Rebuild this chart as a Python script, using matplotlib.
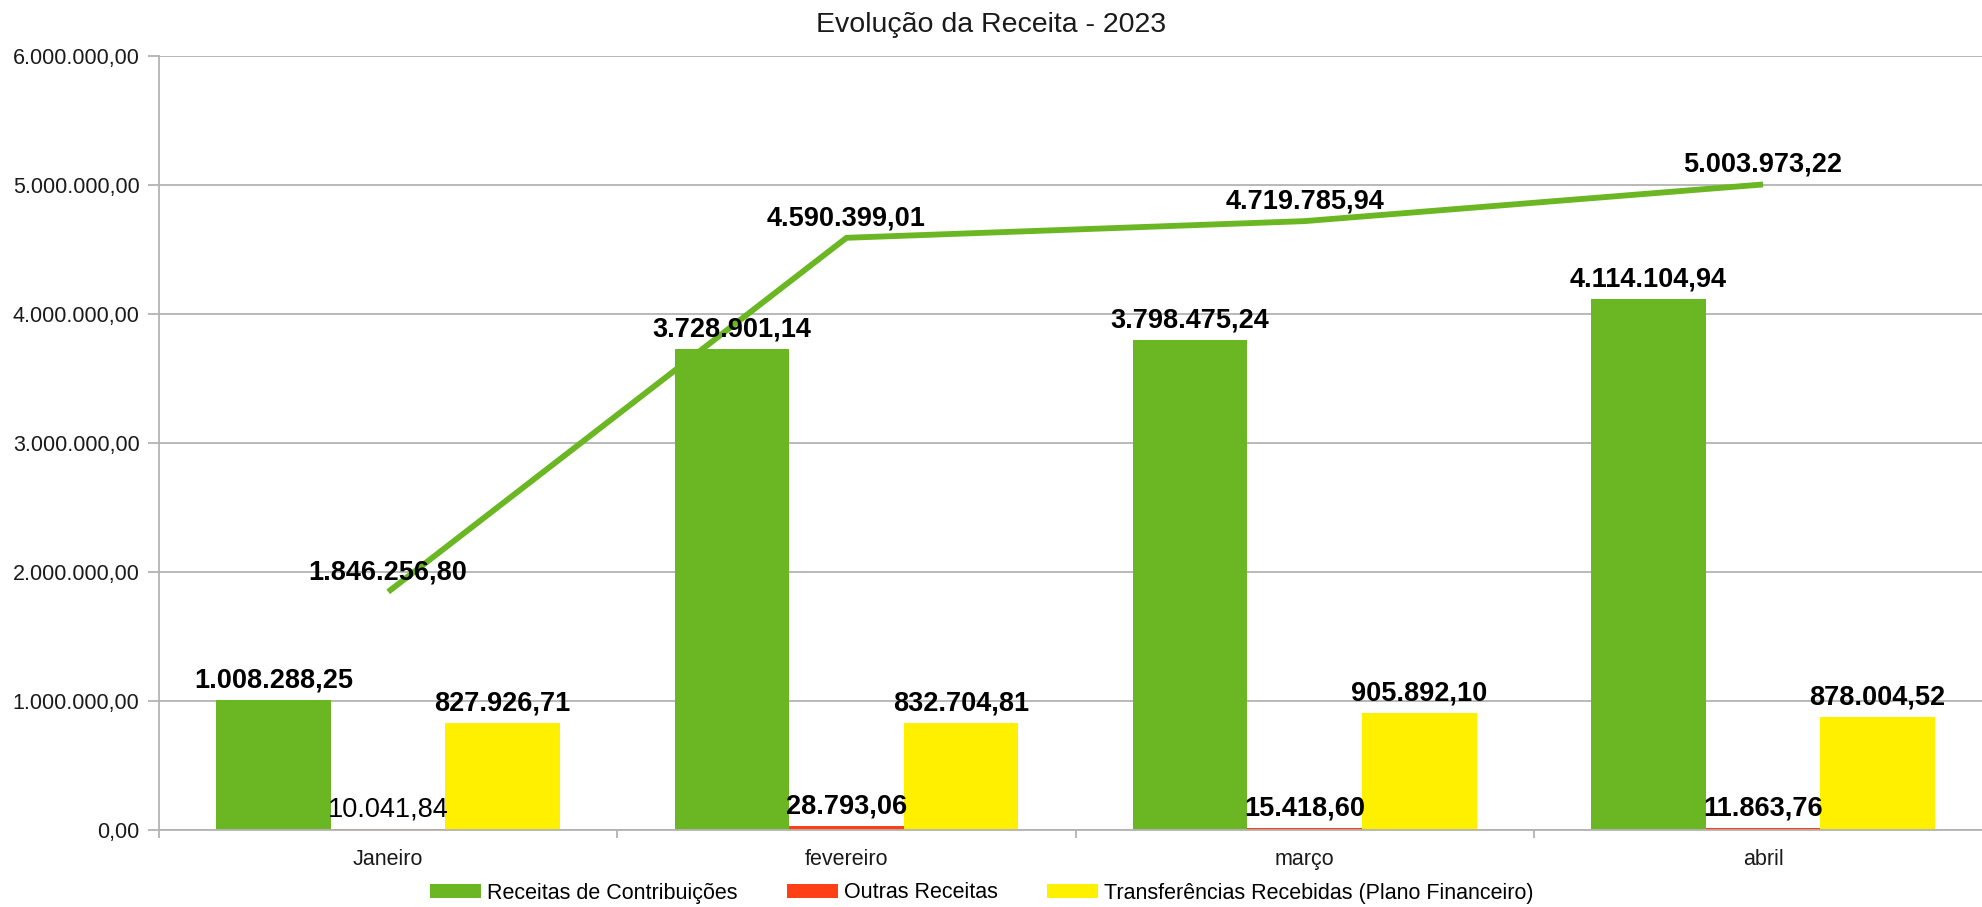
import numpy as np
import matplotlib
matplotlib.use("Agg")
import matplotlib.pyplot as plt
from matplotlib.ticker import FixedLocator, FuncFormatter

# Data
meses = ['Janeiro', 'fevereiro', 'março', 'abril']
contribuicoes = [1008288.25, 3728901.14, 3798475.24, 4114104.94]
outras = [10041.84, 28793.06, 15418.60, 11863.76]
transferencias = [827926.71, 832704.81, 905892.10, 878004.52]
total = [1846256.80, 4590399.01, 4719785.94, 5003973.22]

series_names = ['Receitas de Contribuições', 'Outras Receitas',
                'Transferências Recebidas (Plano Financeiro)']
cores = ['#6ab723', '#ff3f16', '#fff000']

plt.rcParams['font.family'] = ['Liberation Sans', 'DejaVu Sans']


def fmt_br(v, pos=None):
    s = f"{v:,.2f}"
    return s.replace(',', 'X').replace('.', ',').replace('X', '.')


fig = plt.figure(figsize=(19.83, 9.07), dpi=100)
ax = fig.add_axes([0.0802, 0.0849, 1.0 - 0.0802, 0.9383 - 0.0849])

x = np.arange(len(meses))
w = 0.25
grid_col = '#b3b3b3'

ax.set_axisbelow(True)
ax.yaxis.grid(True, color=grid_col, linewidth=1.3)

bar_sets = []
for i, (vals, cor) in enumerate(zip([contribuicoes, outras, transferencias], cores)):
    b = ax.bar(x + (i - 1) * w, vals, width=w, color=cor, label=series_names[i], zorder=2)
    bar_sets.append(b)

# total line (sum of the three series)
ax.plot(x, total, color='#6ab723', linewidth=4.2, zorder=3, solid_capstyle='butt')

# data labels
off = 9
for i, vals in enumerate([contribuicoes, outras, transferencias]):
    for j, v in enumerate(vals):
        peso = 'normal' if (i == 1 and j == 0) else 'bold'
        ax.annotate(fmt_br(v), (x[j] + (i - 1) * w, v), xytext=(0, off),
                    textcoords='offset points', ha='center', va='baseline',
                    fontsize=19.5, fontweight=peso, color='black', zorder=5)
for j, v in enumerate(total):
    ax.annotate(fmt_br(v), (x[j], v), xytext=(0, off),
                textcoords='offset points', ha='center', va='baseline',
                fontsize=19.5, fontweight='bold', color='black', zorder=5)

ax.set_ylim(0, 6000000)
ax.set_yticks(np.arange(0, 6000001, 1000000))
ax.yaxis.set_major_formatter(FuncFormatter(fmt_br))
ax.set_xlim(-0.5, 3.48)

ax.xaxis.set_major_locator(FixedLocator([-0.5, 0.5, 1.5, 2.5, 3.5]))
ax.xaxis.set_major_formatter(FuncFormatter(lambda v, p: ''))
ax.xaxis.set_minor_locator(FixedLocator(x))
ax.set_xticklabels(meses, minor=True)
ax.tick_params(axis='x', which='major', length=6, width=1.3, color=grid_col, direction='out')
ax.tick_params(axis='x', which='minor', length=0, pad=14, labelsize=15.5, labelcolor='#1a1a1a')
ax.tick_params(axis='y', length=8, width=1.3, color=grid_col, pad=6,
               labelsize=15.5, labelcolor='#1a1a1a')

for s in ['top', 'right']:
    ax.spines[s].set_visible(False)
for s in ['left', 'bottom']:
    ax.spines[s].set_color(grid_col)
    ax.spines[s].set_linewidth(1.3)

fig.text(0.5, 0.972, 'Evolução da Receita - 2023', ha='center', va='center',
         fontsize=20.5, color='#1a1a1a')

fig.legend(handles=bar_sets, labels=series_names, loc='center',
           bbox_to_anchor=(982 / 1983, 1 - 893 / 907), ncol=3, frameon=False,
           fontsize=15.5, handlelength=2.37, handleheight=0.6,
           handletextpad=0.28, columnspacing=2.28, borderpad=0, borderaxespad=0)

fig.savefig('out.png', dpi=100)
